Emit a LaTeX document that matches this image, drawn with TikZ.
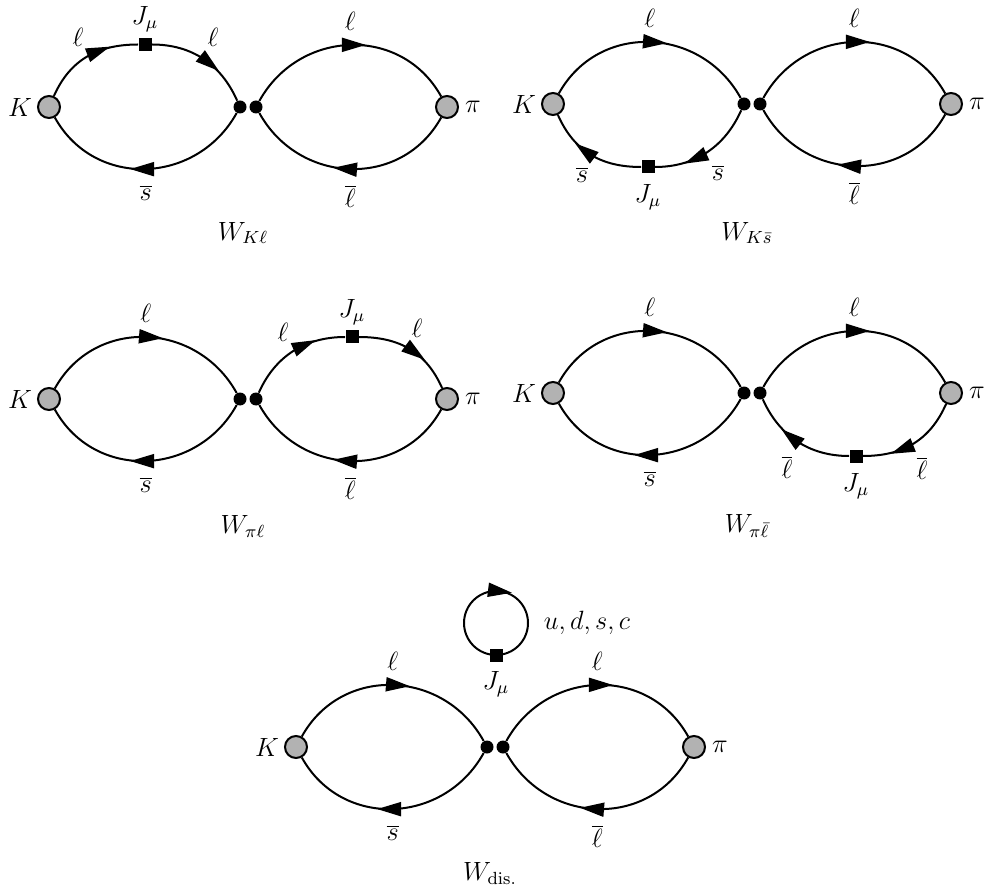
\documentclass[tikz,border=0pt]{standalone}
\usetikzlibrary{arrows.meta,decorations.markings}
\newcommand{\lab}[1]{\scalebox{1.1}{$#1$}}
\tikzset{
    >={Triangle[length=12pt,width=7pt]},
    every node/.style={font=\large},
    quarkline/.style={line width=1pt},
    upper arc/.style={out=61,in=119,distance=41pt},
    lower arc/.style={out=-119,in=-61,distance=41pt},
    arrow at/.style={postaction={decorate},decoration={markings,mark=at position #1 with {\arrow[xshift=6pt]{>}}}},
    source/.style={circle,draw,line width=1pt,fill=black!30,minimum size=11pt,inner sep=0pt},
    vertex/.style={circle,fill=black,minimum size=6.5pt,inner sep=0pt},
    current/.style={rectangle,fill=black,minimum size=6.5pt,inner sep=0pt},
    eyes/.pic={
        \node[source] (K) at (0,0) {};
        \node[source] (pi) at (398,0) {};
        \node[vertex] (dl) at (191,0) {};
        \node[vertex] (dr) at (207,0) {};
        \node[left=-1pt] (Klab) at (K.west) {\lab{K}};
        \node[right=-0.5pt] (pilab) at (pi.east) {\lab{\pi}};
    }
}
\begin{document}
\begin{tikzpicture}[x=0.5pt,y=0.5pt]
    \useasboundingbox (0,0) rectangle (984,890);
    \pic (d1-) at (49,783) {eyes};
    \pic (d2-) at (553,786) {eyes};
    \pic (d3-) at (49,491) {eyes};
    \pic (d4-) at (553,497) {eyes};
    \pic (d5-) at (296,143) {eyes};
    \node (d1-name) at (243,657) {\lab{W_{K\ell}}};
    \node (d2-name) at (747,657) {\lab{W_{K\bar{s}}}};
    \node (d3-name) at (243,364) {\lab{W_{\pi\ell}}};
    \node (d4-name) at (747,364) {\lab{W_{\pi\bar{\ell}}}};
    \node (d5-name) at (490,17) {\lab{W_{\mathrm{dis.}}}};
    % arcs with no current
    \foreach \from/\to [count=\i] in {d1-dr/d1-pi,d2-K/d2-dl,d2-dr/d2-pi,d3-K/d3-dl,d4-K/d4-dl,d4-dr/d4-pi,d5-K/d5-dl,d5-dr/d5-pi}
        \draw[quarkline,upper arc,arrow at=0.52] (\from) to node[above=3.5pt] (up\i) {\lab{\ell}} (\to);
    \foreach \from/\to/\q [count=\i] in {d1-dl/d1-K/s,d1-pi/d1-dr/\ell,d2-pi/d2-dr/\ell,d3-dl/d3-K/s,d3-pi/d3-dr/\ell,d4-dl/d4-K/s,d5-dl/d5-K/s,d5-pi/d5-dr/\ell}
        \draw[quarkline,lower arc,arrow at=0.52] (\from) to node[below=4pt] (low\i) {\lab{\overline{\q}}} (\to);
    % current on the upper left
    \node[current] (d1-J) at (145,845.5) {};
    \node (d1-Jlab) at ([shift={(0,25)}]d1-J) {\lab{J_\mu}};
    \draw[quarkline,arrow at=0.62] (d1-K) to[out=66,in=180,distance=20pt] (d1-J);
    \draw[quarkline,arrow at=0.57] (d1-J) to[out=0,in=114,distance=20pt] (d1-dl);
    \node (d1-a) at ([shift={(-67,7)}]d1-J) {\lab{\ell}};
    \node (d1-b) at ([shift={(68,7)}]d1-J) {\lab{\ell}};
    % current on the lower left
    \node[current] (d2-J) at (648,723) {};
    \node (d2-Jlab) at ([shift={(0,-30)}]d2-J) {\lab{J_\mu}};
    \draw[quarkline,arrow at=0.57] (d2-J) to[out=180,in=-66,distance=20pt] (d2-K);
    \draw[quarkline,arrow at=0.62] (d2-dl) to[out=-114,in=0,distance=20pt] (d2-J);
    \node (d2-a) at ([shift={(-66,-8)}]d2-J) {\lab{\overline{s}}};
    \node (d2-b) at ([shift={(70,-6)}]d2-J) {\lab{\overline{s}}};
    % current on the upper right
    \node[current] (d3-J) at (352,553) {};
    \node (d3-Jlab) at ([shift={(0,25)}]d3-J) {\lab{J_\mu}};
    \draw[quarkline,arrow at=0.62] (d3-dr) to[out=66,in=180,distance=20pt] (d3-J);
    \draw[quarkline,arrow at=0.57] (d3-J) to[out=0,in=114,distance=20pt] (d3-pi);
    \node (d3-a) at ([shift={(-69,5)}]d3-J) {\lab{\ell}};
    \node (d3-b) at ([shift={(65,9)}]d3-J) {\lab{\ell}};
    % current on the lower right
    \node[current] (d4-J) at (856,434) {};
    \node (d4-Jlab) at ([shift={(0,-30)}]d4-J) {\lab{J_\mu}};
    \draw[quarkline,arrow at=0.57] (d4-J) to[out=180,in=-66,distance=20pt] (d4-dr);
    \draw[quarkline,arrow at=0.62] (d4-pi) to[out=-114,in=0,distance=20pt] (d4-J);
    \node (d4-a) at ([shift={(-69,-11)}]d4-J) {\lab{\overline{\ell}}};
    \node (d4-b) at ([shift={(66,-12)}]d4-J) {\lab{\overline{\ell}}};
    % closed loop
    \node[current] (d5-J) at (496,235) {};
    \node (d5-Jlab) at ([shift={(0,-29)}]d5-J) {\lab{J_\mu}};
    \node (d5-flav) at (587,267) {\lab{u,d,s,c}};
    \draw[quarkline,arrow at=0.52] (d5-J) arc[start angle=-90,delta angle=-360,radius=32];
\end{tikzpicture}
\end{document}
